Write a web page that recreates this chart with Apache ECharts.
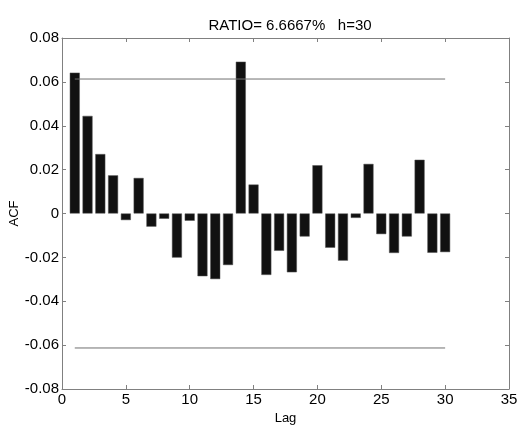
<!DOCTYPE html>
<html><head><meta charset="utf-8">
<script src="https://cdn.jsdelivr.net/npm/echarts@6/dist/echarts.min.js"></script>
<style>html,body{margin:0;padding:0;background:#fff}#c{width:518px;height:426px}</style>
</head><body><div id="c"></div>
<script>
const lags = [1,2,3,4,5,6,7,8,9,10,11,12,13,14,15,16,17,18,19,20,21,22,23,24,25,26,27,28,29,30];
const acf = [0.0642,0.0445,0.0271,0.0174,-0.0030,0.0162,-0.0060,-0.0024,-0.0201,-0.0033,
             -0.0286,-0.0299,-0.0235,0.0692,0.0132,-0.0280,-0.0170,-0.0268,-0.0105,0.0220,
             -0.0156,-0.0215,-0.0020,0.0226,-0.0094,-0.0180,-0.0105,0.0245,-0.0179,-0.0176];
const bound = 0.0613;
const boundLags = [1, 30];
const xTicks = [0,5,10,15,20,25,30,35];
const yTicks = [-0.08,-0.06,-0.04,-0.02,0,0.02,0.04,0.06,0.08];
const titleText = 'RATIO= 6.6667%   h=30';

const chart = echarts.init(document.getElementById('c'), null, {renderer:'canvas'});
const font = 'Liberation Sans, Arial, sans-serif';
const axisCol = '#808080';
const yFmt = v => { const r = Math.round(v*100)/100; return r === 0 ? '0' : r.toFixed(2); };
chart.setOption({
  animation:false,
  backgroundColor:'#fff',
  title:{text:titleText, left:285, top:13, textAlign:'center',
    textStyle:{fontFamily:font, fontSize:15, fontWeight:'normal', color:'#000'}},
  grid:{left:62, right:9, top:38, bottom:37, show:false, containLabel:false, outerBoundsMode:'none'},
  xAxis:[{type:'value', min:xTicks[0], max:xTicks[xTicks.length-1], interval:5,
    name:'Lag', nameLocation:'middle', nameGap:22,
    nameTextStyle:{fontFamily:font, fontSize:13, color:'#000'},
    axisLine:{show:true, onZero:false, lineStyle:{color:axisCol, width:1}},
    axisTick:{show:true, inside:true, length:4, lineStyle:{color:axisCol}},
    axisLabel:{fontFamily:font, fontSize:15, color:'#000', margin:3},
    splitLine:{show:false}},
   {type:'value', position:'top', min:0, max:35, interval:5,
    axisLine:{show:true, onZero:false, lineStyle:{color:axisCol, width:1}},
    axisTick:{show:true, inside:true, length:4, lineStyle:{color:axisCol}},
    axisLabel:{show:false}, splitLine:{show:false}}],
  yAxis:[{type:'value', min:yTicks[0], max:yTicks[yTicks.length-1], interval:0.02,
    name:'ACF', nameLocation:'middle', nameGap:41, nameRotate:90, nameMoveOverlap:false,
    nameTextStyle:{fontFamily:font, fontSize:13, color:'#000'},
    axisLine:{show:true, onZero:false, lineStyle:{color:axisCol, width:1}},
    axisTick:{show:true, inside:true, length:4, lineStyle:{color:axisCol}},
    axisLabel:{fontFamily:font, fontSize:15, color:'#000', margin:3, formatter:yFmt},
    splitLine:{show:false}},
   {type:'value', position:'right', min:-0.08, max:0.08, interval:0.02,
    axisLine:{show:true, onZero:false, lineStyle:{color:axisCol, width:1}},
    axisTick:{show:true, inside:true, length:4, lineStyle:{color:axisCol}},
    axisLabel:{show:false}, splitLine:{show:false}}],
  series:[
    {type:'bar', xAxisIndex:0, yAxisIndex:0, barWidth:10,
     data:lags.map((l,i)=>[l, acf[i]]),
     itemStyle:{color:'#111', borderColor:'#555', borderWidth:0.5}},
    {type:'line', xAxisIndex:0, yAxisIndex:0, symbol:'none',
     data:boundLags.map(l=>[l, bound]), lineStyle:{color:'#707070', width:1}},
    {type:'line', xAxisIndex:0, yAxisIndex:0, symbol:'none',
     data:boundLags.map(l=>[l, -bound]), lineStyle:{color:'#707070', width:1}}
  ]
});
</script></body></html>
